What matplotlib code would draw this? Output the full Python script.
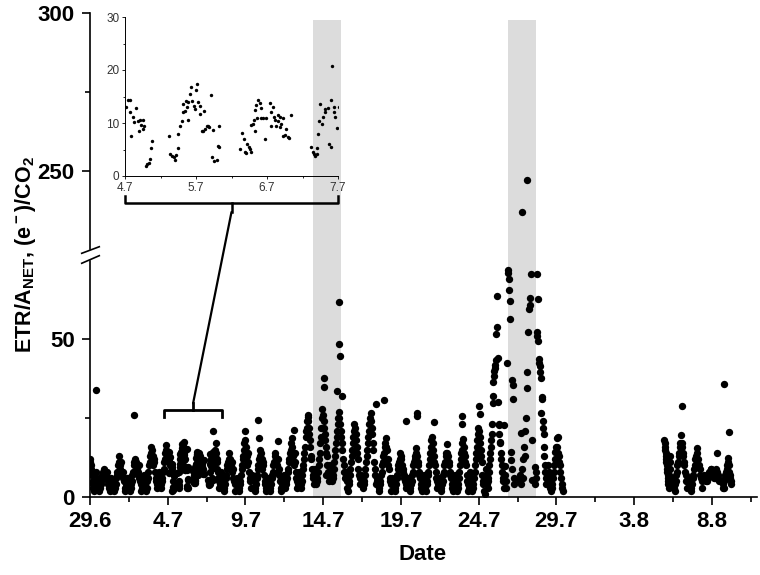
import numpy as np
import matplotlib
matplotlib.use("Agg")
import matplotlib.pyplot as plt
from matplotlib.patches import ConnectionPatch

plt.rcParams['font.family'] = ['Liberation Sans', 'DejaVu Sans']
plt.rcParams['mathtext.fontset'] = 'custom'
plt.rcParams['mathtext.rm'] = 'Liberation Sans:bold'
plt.rcParams['mathtext.it'] = 'Liberation Sans:bold'
plt.rcParams['mathtext.bf'] = 'Liberation Sans:bold'

# --- data: days counted from 29.6 (= day 0) ---
tick_days = [0, 5, 10, 15, 20, 25, 30, 35, 40]
tick_labels = ['29.6', '4.7', '9.7', '14.7', '19.7', '24.7', '29.7', '3.8', '8.8']
inset_ticks = [5, 6, 7, 8]
inset_labels = ['4.7', '5.7', '6.7', '7.7']
shade_periods = [(14.35, 16.15), (26.9, 28.7)]

# daily measurement blocks: start, end, values (regular sampling inside a block)
block_start = [0.0, 0.45, 1.45, 2.45, 3.45, 4.45, 8.02, 8.45, 9.45, 10.45, 11.45, 12.45,
               13.45, 14.45, 15.45, 16.45, 17.45, 18.45, 19.45, 20.45, 21.45, 22.45,
               23.45, 24.45, 25.45, 26.65, 27.6, 28.6, 29.45, 36.95, 37.45, 38.45, 39.5, 40.7]
block_end = [0.36, 1.38, 2.38, 3.38, 4.38, 4.98, 8.38, 9.38, 10.38, 11.38, 12.38, 13.38,
             14.38, 15.38, 16.38, 17.38, 18.38, 19.38, 20.38, 21.38, 22.38, 23.38,
             24.38, 25.38, 26.6, 27.3, 28.45, 29.35, 30.42, 37.32, 38.38, 39.38, 40.45, 41.25]
block_values = [
    [11, 12, 10, 9, 8, 7, 5, 4, 3, 2, 3, 4, 6, 8],
    [6, 5, 4, 3, 2, 3, 4, 5, 6, 7, 8, 9, 8, 7, 6, 7, 8, 6, 5, 4, 3, 2, 3, 4, 6],
    [5, 4, 3, 2, 3, 4, 6, 7, 8, 10, 11, 13, 9, 10, 11, 8, 7, 8, 6, 5, 3, 2, 3, 4, 6],
    [6, 5, 4, 2, 3, 4, 5, 7, 8, 10, 11, 12, 11, 10, 9, 7, 8, 10, 6, 5, 4, 2, 3, 5],
    [7, 5, 4, 3, 2, 3, 5, 6, 8, 10, 11, 13, 14, 16, 15, 13, 10, 12, 11, 8, 6, 5, 3, 4, 6],
    [8, 6, 5, 4, 3, 5, 6, 8, 9, 11, 12, 14, 15, 16.5, 14, 13],
    [13, 15, 17, 14, 12, 11, 9, 8, 6, 5, 3, 4, 6],
    [8, 6, 5, 3, 2, 3, 4, 6, 7, 9, 10, 11, 12, 13.8, 12, 11, 10, 8, 11, 9, 6, 5, 4, 2, 5],
    [6, 5, 4, 2, 3, 4, 5, 7, 9, 10, 12, 13, 15, 17, 18, 16, 14, 13, 10, 14, 11, 8, 6, 5, 3, 6],
    [7, 6, 5, 3, 2, 3, 4, 6, 7, 9, 10, 12, 13, 15, 14, 12, 9, 11, 10, 7, 5, 4, 2, 3, 5],
    [6, 5, 4, 2, 3, 4, 6, 7, 8, 10, 11, 13, 14, 12, 11, 10, 8, 12, 9, 7, 5, 3, 2, 4, 5],
    [7, 6, 5, 3, 4, 5, 6, 8, 9, 11, 12, 14, 15, 17, 18.6, 16, 14, 13, 10, 14, 11, 8, 6, 5, 3, 4],
    [8, 6, 5, 3, 4, 5, 7, 9, 10, 12, 14, 16, 19, 21, 22, 24, 26, 24, 22, 20, 18, 16, 13, 12, 9,
     7, 6, 4],
    [9, 7, 6, 4, 5, 6, 8, 10, 12, 14, 17, 19, 22, 25, 28, 26, 24, 22, 20, 18, 16, 14, 13, 10, 8,
     7, 5],
    [10, 8, 7, 5, 6, 7, 9, 11, 13, 15, 17, 19, 21, 23, 25, 27, 25, 23, 21, 19, 17, 15, 12, 10, 8, 6],
    [8, 6, 5, 3, 2, 4, 5, 7, 9, 11, 13, 15, 17, 19, 21, 23, 22, 20, 18, 16, 14, 12, 9, 7, 6, 4],
    [7, 6, 5, 3, 4, 5, 7, 9, 11, 13, 15, 17, 19, 21, 23, 25, 26.5, 24, 22, 20, 17, 15, 11, 9, 7, 4],
    [6, 5, 4, 2, 3, 4, 5, 7, 8, 10, 11, 13, 14, 16, 17, 18.6, 16, 15, 12, 10, 9, 6, 5, 4, 2],
    [6, 5, 4, 3, 2, 3, 4, 6, 7, 9, 10, 11, 12, 14, 13, 12, 10, 9, 8, 7, 6, 5, 4, 3, 5],
    [6, 5, 4, 2, 3, 4, 5, 7, 8, 10, 11, 12, 13, 15.4, 14, 13, 11, 10, 8, 7, 6, 4, 3, 2, 4],
    [7, 6, 5, 3, 2, 4, 5, 7, 8, 10, 12, 14, 16, 18, 19, 17, 15, 13, 11, 10, 8, 6, 5, 3, 4],
    [6, 5, 4, 2, 3, 4, 5, 7, 8, 10, 11, 13, 14, 16.9, 14, 13, 11, 10, 8, 7, 6, 4, 3, 2, 3],
    [7, 6, 5, 3, 2, 3, 4, 6, 8, 10, 12, 14, 15, 17, 18.3, 16, 14, 13, 11, 10, 7, 5, 4, 2, 3],
    [8, 6, 5, 3, 2, 3, 4, 6, 8, 10, 12, 14, 16, 18, 20, 22, 21, 19, 17, 15, 13, 11, 7, 5, 4, 2, 1],
    [9, 7, 6, 4, 3, 5, 6, 8, 10, 12, 14, 16, 18, 20, 23, 29.8, 32, 36.5, 38.5, 40, 41, 42, 43.4,
     51.6, 53.9, 63.7, 44, 30, 23.3, 22.8, 20, 17.5, 17, 14, 12, 10, 8, 6, 5, 3],
    [22.8, 9.9, 7, 5, 3, 42.5, 72, 71, 69, 65.7, 62.3, 56.5, 14.3, 11.7, 9, 37.2, 35.4, 31, 6, 4],
    [5.4, 7, 4, 20.2, 9, 6, 12, 16, 13, 21, 24.9, 34.6, 39.6, 52.3, 59.6, 61, 63, 70.8, 18, 5.4],
    [9.6, 4, 6, 8, 70.8, 52.3, 51, 49.5, 62.7, 43.9, 42.5, 41.5, 39.5, 37.7, 26.5, 31.7, 31,
     24, 22, 20, 16, 13, 10, 8, 6, 4],
    [10, 8, 7, 5, 3, 2, 3, 4, 6, 8, 10, 12, 14.3, 16, 18.6, 16, 14, 13, 11, 10, 8, 6, 4, 3, 2],
    [18, 17, 16, 15, 14, 13, 12, 11, 10, 9, 8, 7, 6, 5, 4, 3, 4, 5, 7, 9, 11, 13],
    [6, 5, 4, 3, 2, 4, 5, 7, 8, 10, 11, 13, 14, 16, 17, 19.8, 17, 16, 14, 13, 11, 10, 8, 7, 5, 3],
    [6, 5, 4, 3, 2, 3, 4, 6, 7, 9, 10, 12, 13, 15.4, 14, 12, 10, 9, 7, 6, 5, 3],
    [7, 6, 6, 5, 5, 6, 6, 7, 7, 8, 8, 9, 9, 8, 8, 7, 7, 6, 6, 8, 9, 13.9, 8, 7, 6, 5],
    [4, 3, 3, 5, 6, 7, 8, 9, 10, 12.3, 11, 10, 8, 7, 6, 5, 4],
]

# detailed points 4.7 - 7.7
detail_day = [5.01, 5.04, 5.07, 5.07, 5.09, 5.11, 5.13, 5.15, 5.18, 5.20, 5.21, 5.23, 5.25, 5.25,
              5.27, 5.29, 5.31, 5.34, 5.35, 5.36, 5.375,
              5.62, 5.64, 5.66, 5.685, 5.71, 5.72, 5.74, 5.75, 5.78, 5.80, 5.81, 5.82, 5.85, 5.86,
              5.87, 5.89, 5.89, 5.92, 5.93, 5.95, 5.97, 5.99, 6.00, 6.02, 6.03, 6.05, 6.06, 6.08,
              6.10, 6.11, 6.13, 6.16, 6.17, 6.19, 6.21, 6.22, 6.24, 6.26, 6.29, 6.31, 6.33, 6.33,
              6.62, 6.65, 6.68, 6.69, 6.71, 6.72, 6.74, 6.76, 6.77, 6.78, 6.80, 6.82, 6.83, 6.83,
              6.85, 6.86, 6.88, 6.90, 6.91, 6.92, 6.94, 6.97, 6.99, 7.04, 7.05, 7.06, 7.09, 7.10,
              7.11, 7.13, 7.15, 7.16, 7.18, 7.19, 7.20, 7.23, 7.23, 7.26, 7.27, 7.30, 7.31, 7.34,
              7.62, 7.65, 7.66, 7.68, 7.70, 7.71, 7.72, 7.73, 7.74, 7.77, 7.79, 7.81, 7.82, 7.86,
              7.87, 7.90, 7.91, 7.90, 7.94, 7.95, 7.96, 7.98]
detail_value = [13.1, 14.4, 14.4, 12.0, 7.6, 11.1, 10.1, 12.8, 10.3, 8.4, 10.6, 9.7, 10.6, 8.9,
                9.5, 1.9, 2.2, 2.5, 3.3, 5.2, 6.6,
                7.5, 4.1, 3.8, 3.5, 3.0, 3.9, 5.2, 7.9, 9.5, 10.4, 12.0, 13.6, 12.3, 14.2,
                13.0, 13.9, 10.6, 15.5, 16.8, 14.2, 13.3, 12.7, 16.3, 17.4, 13.9, 13.3, 11.7, 8.5,
                8.5, 12.2, 8.9, 9.4, 9.5, 9.3, 15.2, 3.5, 8.7, 2.8, 3.0, 5.7, 5.4, 9.5,
                5.1, 8.2, 6.9, 4.6, 4.3, 6.0, 5.5, 5.1, 4.5, 9.6, 9.9, 10.6, 8.4, 12.5,
                13.4, 10.9, 14.3, 13.7, 12.8, 10.9, 10.9, 6.9, 11.0, 13.8, 12.1, 9.5, 13.1, 11.2,
                10.6, 9.4, 11.5, 10.3, 11.2, 9.3, 9.9, 10.9, 7.5, 7.7, 8.9, 7.4, 7.2, 11.6,
                5.5, 4.5, 4.1, 3.8, 4.2, 5.2, 7.9, 10.4, 13.5, 9.9, 11.2, 12.0, 12.6, 12.8,
                6.0, 14.3, 20.8, 5.5, 12.0, 13.1, 11.2, 9.1]

# isolated high values
extra_day = [0.39, 2.85, 10.0, 10.8, 10.85, 12.1, 13.15, 14.0, 15.06, 15.06, 15.2, 15.9, 16.2,
             16.0, 16.0, 16.05, 18.4, 18.9, 20.3, 21.0, 21.05, 22.1, 23.9, 23.9, 25.05, 25.1,
             27.8, 28.1, 30.1, 38.07, 40.76, 41.07]
extra_value = [34, 26, 21, 24.4, 18.7, 17.8, 21.4, 25.4, 37.8, 34.8, 7, 33.6, 32,
               62, 48.6, 44.6, 29.6, 30.7, 24.2, 26.7, 25.8, 23.8, 25.7, 23.1, 28.8, 26.2,
               237, 247, 18.9, 28.9, 35.7, 20.7]

days, vals = [], []
for t0, t1, v in zip(block_start, block_end, block_values):
    days.extend(np.linspace(t0, t1, len(v)))
    vals.extend(v)
days = np.concatenate([days, detail_day, extra_day])
vals = np.concatenate([vals, detail_value, extra_value])


# broken y axis: 0-75 and 225-300 on one axis
def fwd(v):
    v = np.asarray(v, float)
    return np.where(v <= 75, v, np.where(v >= 225, v - 146.5, 75 + (v - 75) * 3.5 / 150))


def inv(u):
    u = np.asarray(u, float)
    return np.where(u <= 75, u, np.where(u >= 78.5, u + 146.5, 75 + (u - 75) * 150 / 3.5))


fig = plt.figure(figsize=(7.6, 5.75), dpi=100)
ax = fig.add_axes([90 / 760, 78 / 575, 667 / 760, 484 / 575])
ax.set_yscale('function', functions=(fwd, inv))
ax.set_ylim(0, 300)
ax.set_xlim(0, 42.9)

for a, b in shade_periods:
    ax.axvspan(a, b, ymin=0, ymax=0.985, color='#dcdcdc', lw=0, zorder=0)

ax.scatter(days, vals, s=28, c='black', linewidths=0, zorder=3)

ax.set_xticks(tick_days)
ax.set_xticklabels(tick_labels)
ax.set_xticks(np.arange(2.5, 43, 5), minor=True)
ax.set_yticks([0, 50, 250, 300])
ax.set_yticklabels(['0', '50', '250', '300'])
ax.set_yticks([25, 275], minor=True)
ax.yaxis.set_minor_formatter(plt.NullFormatter())
ax.tick_params(which='major', direction='out', length=6, width=1.2, labelsize=16, pad=4)
ax.tick_params(which='minor', direction='out', length=3.5, width=1.2)
ax.tick_params(axis='y', which='major', pad=5)
for lab in ax.get_xticklabels() + ax.get_yticklabels():
    lab.set_fontweight('bold')
for s in ['top', 'right']:
    ax.spines[s].set_visible(False)
for s in ['left', 'bottom']:
    ax.spines[s].set_linewidth(1.2)
ax.spines['left'].set_bounds(0, 75)
ax.plot([0, 0], [0.5124, 1.0], transform=ax.transAxes, color='black', lw=1.2, clip_on=False)
# break marks
ax.plot([-0.0124, 0.0139], [0.4829, 0.4986], transform=ax.transAxes, color='black', lw=1.2, clip_on=False)
ax.plot([-0.0124, 0.0139], [0.5035, 0.5171], transform=ax.transAxes, color='black', lw=1.2, clip_on=False)

fig.text(26 / 760, 1 - 255 / 575, r'ETR/A$_{\rm NET}$, (e$^{\rm -}$)/CO$_{\rm 2}$',
         rotation=90, ha='center', va='center', fontsize=15.5, fontweight='bold')
fig.text(423 / 760, 1 - 555 / 575, 'Date', ha='center', va='center', fontsize=16, fontweight='bold')

# bracket on main chart
ax.plot([4.76, 4.76, 8.49, 8.49], [25.3, 27.5, 27.5, 25.3], color='black', lw=2, zorder=4)
ax.plot([6.63, 6.63], [27.5, 29.7], color='black', lw=2, zorder=4)

# inset
axin = fig.add_axes([125 / 760, 1 - 176 / 575, 213 / 760, 159 / 575], facecolor='none')
axin.scatter(days, vals, s=6, c='black', linewidths=0)
axin.set_xlim(5, 8)
axin.set_ylim(0, 30)
axin.set_xticks(inset_ticks)
axin.set_xticklabels(inset_labels)
axin.set_xticks([5.5, 6.5, 7.5], minor=True)
axin.set_yticks([0, 10, 20, 30])
axin.set_yticks([5, 15, 25], minor=True)
axin.tick_params(which='major', direction='out', length=2.5, width=0.6, labelsize=8.5,
                 labelcolor='#333333', pad=1.5)
axin.tick_params(which='minor', direction='out', length=1.5, width=0.6)
for s in ['top', 'right']:
    axin.spines[s].set_visible(False)
for s in ['left', 'bottom']:
    axin.spines[s].set_linewidth(0.7)
axin.plot([5, 5, 8, 8], [-3.8, -5.1, -5.1, -3.8], color='black', lw=1.8, clip_on=False)
axin.plot([6.5, 6.5], [-5.1, -6.8], color='black', lw=1.8, clip_on=False)

con = ConnectionPatch(xyA=(6.5, -6.8), coordsA=axin.transData,
                      xyB=(6.63, 29.7), coordsB=ax.transData, color='black', lw=1.6)
fig.add_artist(con)

fig.savefig('out.png', dpi=100)
